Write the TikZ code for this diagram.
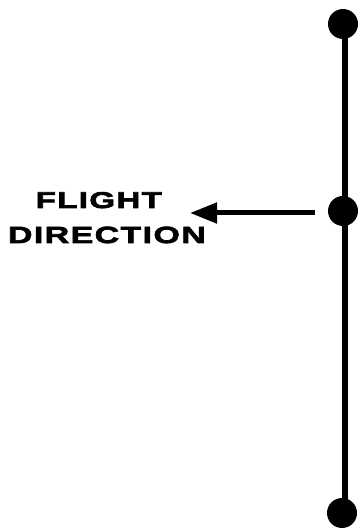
\documentclass[tikz,border=0pt]{standalone}
\usepackage{fontspec}
\setmainfont{Liberation Sans}
\newfontfamily\lblfont{Liberation Sans Bold}[FakeStretch=1.45,FakeBold=3,LetterSpace=6]
\usetikzlibrary{arrows.meta}
\tikzset{
  dot/.style={circle,fill=black,inner sep=0pt,minimum size=30pt},
  lbl/.style={inner sep=0pt,anchor=base west},
  stem/.style={line width=6pt},
  dirarrow/.style={line width=5pt,-{Triangle[length=27pt,width=20pt]}}
}
\begin{document}
\begin{tikzpicture}[x=1pt,y=1pt]
\useasboundingbox (0,0) rectangle (358,529);
\node[dot] (top) at (343,505) {};
\node[dot] (mid) at (343,318) {};
\node[dot] (bot) at (342,16) {};
\draw[stem] (344.5,505) -- (344.5,16);
\node[lbl,font=\fontsize{22.8}{24}\lblfont] (l1) at (35.5,321) {FLIGHT};
\node[lbl,font=\fontsize{23.4}{26}\lblfont] (l2) at (7.8,286) {DIRECTION};
\coordinate (as) at (315,316);
\coordinate (at) at (190,316);
\draw[dirarrow] (as) -- (at);
\end{tikzpicture}
\end{document}
